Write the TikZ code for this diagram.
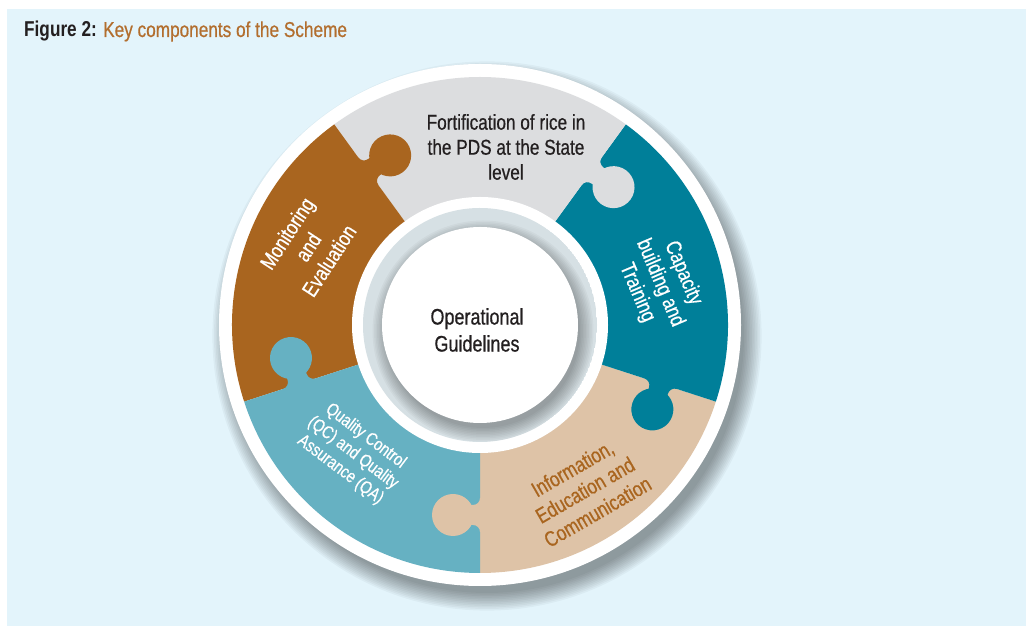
\documentclass[tikz,border=0pt]{standalone}
\usepackage{fontspec}
\setmainfont{Liberation Sans}[FakeStretch=0.8, UprightFeatures={FakeBold=0.6}]
\usetikzlibrary{calc}

\definecolor{bgblue}{HTML}{E3F4FB}
\definecolor{pgray}{HTML}{DCDDDF}
\definecolor{pbrown}{HTML}{A9651F}
\definecolor{pteal}{HTML}{007F99}
\definecolor{pblue}{HTML}{66B1C2}
\definecolor{ptan}{HTML}{DEC3A7}
\definecolor{ringgray}{HTML}{D6E0E4}
\definecolor{ink}{HTML}{231F20}
\definecolor{titlebrown}{HTML}{B26E2E}

\tikzset{
  lbl/.style={align=center, inner sep=0pt, font=\fontsize{21.5}{25}\selectfont},
}

\begin{document}
\begin{tikzpicture}[x=1pt,y=1pt]
  \useasboundingbox (0,0) rectangle (1026,626);
  \fill[bgblue] (7,0) rectangle (1026,617);

  \node[lbl, anchor=base west] (title) at (24,589)
    {\textbf{\color{ink}Figure 2:} \color{titlebrown}Key components of the Scheme};

  \begin{scope}[shift={(480,301)}]
    % shadow and white rim
    \foreach \k in {0,...,11}
    \fill[black, opacity=0.035] (7,-11) circle ({257+1.6*\k});
    \fill[white] (0,0) circle (261);

    % puzzle pieces, tab on the lower edge of each
    \foreach \a/\c in {-90/ptan, -18/pteal, 54/pgray, 126/pbrown, 198/pblue}
    \fill[\c] (0,0) -- (\a:248) arc[start angle=\a, end angle=\a+72, radius=248] -- cycle;
    \foreach \a/\c in {-90/ptan, -18/pteal, 54/pgray, 126/pbrown, 198/pblue}
    \fill[\c, rotate=\a] (173,1) -- (173,0) arc[start angle=90, end angle=0, radius=7]
      -- (180,-12) -- (200,-12) -- (200,-7) arc[start angle=180, end angle=90, radius=7]
      -- (207,0) -- (207,1) -- cycle (190,-27) circle (21);

    % centre rings
    \fill[white] (0,0) circle (128);
    \begin{scope}
      \clip (0,0) circle (117);
      \fill[ringgray] (0,0) circle (117);
      \foreach \k in {0,...,9}
      \fill[black, opacity=0.03] (3,-6) circle ({97+1.5*\k});
    \end{scope}
    \fill[white] (0,0) circle (98);

    \node[lbl, text=ink] (fort) at (26,178) {Fortification of rice in\\the PDS at the State\\level};
    \node[lbl, text=white, rotate=-67] (capacity) at (180,42) {Capacity\\building and\\Training};
    \node[lbl, text=pbrown, rotate=30] (iec) at (105,-165) {Information,\\Education and\\Communication};
    \node[lbl, text=white, rotate=-37, font=\fontsize{18}{21}\selectfont] (qcqa) at (-127,-128) {Quality Control\\(QC) and Quality\\Assurance (QA)};
    \node[lbl, text=white, rotate=57] (monitor) at (-172,78) {Monitoring\\and\\Evaluation};
    \node[lbl, text=ink, font=\fontsize{22.5}{27}\selectfont] (guide) at (-3,-5) {Operational\\Guidelines};
  \end{scope}
\end{tikzpicture}
\end{document}
